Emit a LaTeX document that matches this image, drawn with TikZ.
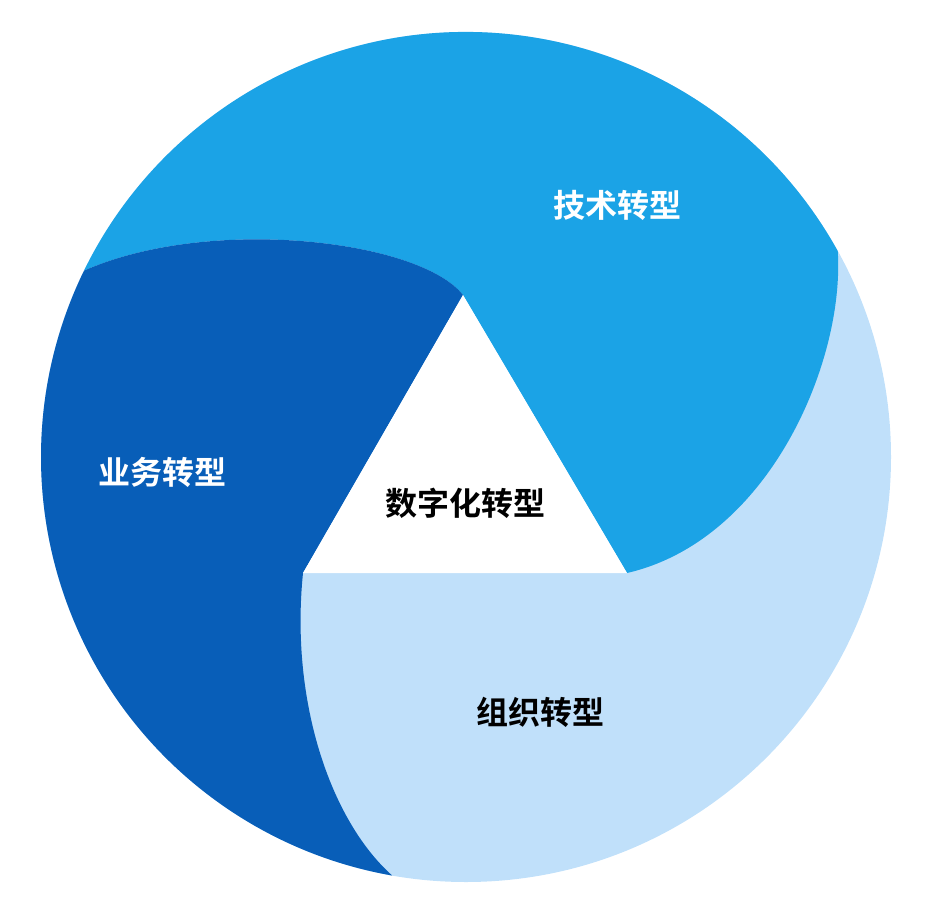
\documentclass[tikz,border=0pt]{standalone}
\usepackage{fontspec}
\newfontfamily\cjk{Noto Sans CJK SC Bold}
\usetikzlibrary{calc}
\definecolor{techblue}{RGB}{27,163,230}
\definecolor{bizblue}{RGB}{8,94,184}
\definecolor{orgblue}{RGB}{192,224,250}
\begin{document}
\begin{tikzpicture}[x=1pt, y=-1pt, font=\cjk\fontsize{32}{36}\selectfont]
\tikzset{lbl/.style={text=black, inner sep=0pt}}
\useasboundingbox (0,0) rectangle (942,902);
\coordinate (c) at (466,457);
\coordinate (top) at (463,295);
\coordinate (bl) at (303,573);
\coordinate (br) at (627,573);
% organisation disk underneath
\fill[orgblue] (c) circle (425);
% technology blade
\fill[techblue] (top) -- (br) .. controls (770,540) and (845,360) .. ($(c)+(-29:425)$)
  arc[start angle=-29, end angle=-154, radius=425]
  .. controls (210,215) and (420,240) .. (top) -- cycle;
% business blade
\fill[bizblue] (top) -- (bl) .. controls (290,700) and (330,820) .. ($(c)+(100:425)$)
  arc[start angle=100, end angle=206, radius=425]
  .. controls (210,215) and (420,240) .. (top) -- cycle;
\fill[white] (top) -- (br) -- (bl) -- cycle;
\node[lbl, text=white] (tech) at (617,205) {技术转型};
\node[lbl, text=white] (biz) at (162,472) {业务转型};
\node[lbl] (core) at (465,503) {数字化转型};
\node[lbl] (org) at (540,712) {组织转型};
\end{tikzpicture}
\end{document}
